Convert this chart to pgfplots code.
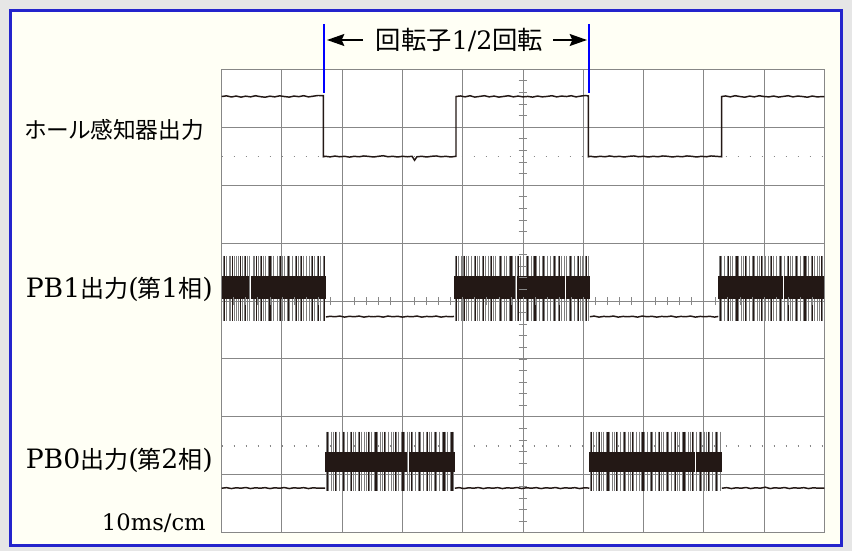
\documentclass[border=0pt]{standalone}
\usepackage{fontspec}
\setmainfont{DejaVu Serif}
\newfontfamily\cjk{Noto Sans CJK JP}
\newfontfamily\cjkp[RawFeature=+palt]{Noto Sans CJK JP}
\usepackage{pgfplots}
\pgfplotsset{compat=1.18}
\usetikzlibrary{arrows.meta}
\definecolor{bggray}{HTML}{E6E6E6}
\definecolor{frameblue}{HTML}{2424CC}
\definecolor{markblue}{HTML}{0000FF}
\definecolor{cream}{HTML}{FFFFF5}
\definecolor{gridgray}{HTML}{878787}
\definecolor{ink}{HTML}{231815}
\definecolor{spikegray}{HTML}{7E7E7E}
\pgfplotsset{
  blockA/.style={only marks, mark=-, mark options={ink, line width=17.4pt, line cap=butt}},
  blockB/.style={only marks, mark=-, mark options={ink, line width=15.1pt, line cap=butt}},
}
\begin{document}
\begin{tikzpicture}[x=0.75pt,y=0.75pt]
\useasboundingbox (0,0) rectangle (852,551);
\fill[bggray] (0,0) rectangle (852,551);
\filldraw[fill=cream, draw=frameblue, line width=1.6pt] (10.5,5.5) rectangle (841.5,540.5);
\begin{axis}[
  at={(166.275pt,13.725pt)}, anchor=south west,
  scale only axis, width=451.95pt, height=347.55pt,
  xmin=0, xmax=10, ymin=0, ymax=8,
  xtick={0,...,10}, ytick={0,...,8},
  xticklabels={}, yticklabels={},
  major tick length=0pt,
  grid=major, major grid style={gridgray, line width=0.7pt},
  axis line style={gridgray, line width=0.7pt},
  axis background/.style={fill=white},
  clip=false,
]
% reference dotted lines
\addplot[gridgray, line width=0.8pt, dash pattern=on 0.9pt off 8.1pt] coordinates {(0,6.49) (10,6.49)};
\addplot[gridgray, line width=0.8pt, dash pattern=on 0.9pt off 8.1pt] coordinates {(0,1.497) (10,1.497)};
% Hall sensor output
\addplot[ink, line width=1.1pt] coordinates {
(0,7.530) (0.08,7.542) (0.16,7.522) (0.24,7.538) (0.32,7.520) (0.40,7.536) (0.48,7.524) (0.56,7.544) (0.64,7.528) (0.72,7.518)
(0.80,7.536) (0.88,7.524) (0.96,7.542) (1.04,7.530) (1.12,7.520) (1.20,7.538) (1.28,7.528) (1.36,7.544) (1.44,7.524) (1.52,7.536)
(1.60,7.548) (1.686,7.545) (1.686,6.49)
(1.72,6.498) (1.80,6.488) (1.88,6.502) (1.96,6.490) (2.04,6.498) (2.12,6.484) (2.20,6.498) (2.28,6.490) (2.36,6.504) (2.44,6.496)
(2.52,6.486) (2.60,6.498) (2.68,6.508) (2.76,6.490) (2.84,6.498) (2.92,6.486) (3.00,6.498) (3.08,6.490) (3.16,6.498) (3.20,6.430)
(3.24,6.490) (3.32,6.498) (3.40,6.486) (3.48,6.498) (3.56,6.504) (3.64,6.490) (3.72,6.498) (3.80,6.486) (3.888,6.498) (3.888,7.53)
(3.96,7.540) (4.04,7.524) (4.12,7.544) (4.20,7.520) (4.28,7.532) (4.36,7.544) (4.44,7.524) (4.52,7.538) (4.60,7.520) (4.68,7.532)
(4.76,7.544) (4.84,7.524) (4.92,7.538) (5.00,7.524) (5.08,7.532) (5.16,7.520) (5.24,7.538) (5.32,7.524) (5.40,7.532) (5.48,7.544)
(5.56,7.524) (5.64,7.538) (5.72,7.530) (5.80,7.544) (5.88,7.524) (5.96,7.538) (6.04,7.548) (6.084,7.540) (6.084,6.49)
(6.12,6.498) (6.20,6.486) (6.28,6.498) (6.36,6.490) (6.44,6.504) (6.52,6.490) (6.60,6.498) (6.68,6.486) (6.76,6.498) (6.84,6.504)
(6.92,6.490) (7.00,6.498) (7.08,6.486) (7.16,6.498) (7.24,6.490) (7.32,6.504) (7.40,6.498) (7.48,6.486) (7.56,6.498) (7.64,6.490)
(7.72,6.504) (7.80,6.498) (7.88,6.486) (7.96,6.498) (8.04,6.490) (8.12,6.504) (8.20,6.498) (8.297,6.490) (8.297,7.53)
(8.36,7.540) (8.44,7.524) (8.52,7.544) (8.60,7.530) (8.68,7.518) (8.76,7.538) (8.84,7.524) (8.92,7.544) (9.00,7.530) (9.08,7.524)
(9.16,7.538) (9.24,7.520) (9.32,7.532) (9.40,7.544) (9.48,7.524) (9.56,7.538) (9.64,7.530) (9.72,7.518) (9.80,7.538) (9.88,7.524) (10,7.530)
};
% PB1 low segments
\addplot[ink, line width=1.1pt] coordinates {
(1.73,3.724) (1.80,3.736) (1.88,3.728) (1.96,3.740) (2.04,3.722) (2.12,3.736) (2.20,3.728) (2.28,3.740) (2.36,3.722) (2.44,3.734)
(2.52,3.728) (2.60,3.736) (2.68,3.722) (2.76,3.740) (2.84,3.728) (2.92,3.736) (3.00,3.722) (3.08,3.734) (3.16,3.728) (3.24,3.740)
(3.32,3.722) (3.40,3.734) (3.48,3.728) (3.56,3.740) (3.64,3.722) (3.72,3.734) (3.80,3.728) (3.855,3.734)
};
\addplot[ink, line width=1.1pt] coordinates {
(6.11,3.728) (6.18,3.740) (6.26,3.722) (6.34,3.734) (6.42,3.728) (6.50,3.740) (6.58,3.722) (6.66,3.734) (6.74,3.728) (6.82,3.736)
(6.90,3.722) (6.98,3.740) (7.06,3.728) (7.14,3.736) (7.22,3.722) (7.30,3.734) (7.38,3.728) (7.46,3.740) (7.54,3.722) (7.62,3.734)
(7.70,3.728) (7.78,3.740) (7.86,3.722) (7.94,3.734) (8.02,3.728) (8.10,3.736) (8.18,3.722) (8.24,3.734)
};
% PB0 low segments
\addplot[ink, line width=1.1pt] coordinates {
(0,0.768) (0.08,0.778) (0.16,0.762) (0.24,0.776) (0.32,0.768) (0.40,0.780) (0.48,0.762) (0.56,0.776) (0.64,0.768) (0.72,0.778)
(0.80,0.762) (0.88,0.776) (0.96,0.768) (1.04,0.780) (1.12,0.762) (1.20,0.776) (1.28,0.768) (1.36,0.778) (1.44,0.762) (1.52,0.776)
(1.60,0.768) (1.716,0.770)
};
\addplot[ink, line width=1.1pt] coordinates {
(3.87,0.768) (3.94,0.778) (4.02,0.762) (4.10,0.776) (4.18,0.768) (4.26,0.780) (4.34,0.762) (4.42,0.776) (4.50,0.768) (4.58,0.778)
(4.66,0.762) (4.74,0.776) (4.82,0.768) (4.90,0.780) (4.98,0.762) (5.06,0.776) (5.14,0.768) (5.22,0.778) (5.30,0.762) (5.38,0.776)
(5.46,0.768) (5.54,0.780) (5.62,0.762) (5.70,0.776) (5.78,0.768) (5.86,0.778) (5.94,0.762) (6.02,0.776) (6.10,0.770)
};
\addplot[ink, line width=1.1pt] coordinates {
(8.30,0.768) (8.38,0.778) (8.46,0.762) (8.54,0.776) (8.62,0.768) (8.70,0.780) (8.78,0.762) (8.86,0.776) (8.94,0.768) (9.02,0.786)
(9.10,0.762) (9.18,0.776) (9.26,0.768) (9.34,0.780) (9.42,0.762) (9.50,0.776) (9.58,0.768) (9.66,0.778) (9.74,0.762) (9.82,0.776)
(9.90,0.768) (10,0.770)
};
% PB1 PWM spikes (gray)
\addplot[only marks, mark=|, mark size=24.3pt, mark options={spikegray, line width=0.6pt}] coordinates {
(0.03,4.22) (0.07,4.22) (0.12,4.22) (0.15,4.22) (0.21,4.22) (0.25,4.22) (0.28,4.22) (0.34,4.22) (0.38,4.22) (0.43,4.22)
(0.46,4.22) (0.52,4.22) (0.55,4.22) (0.61,4.22) (0.64,4.22) (0.69,4.22) (0.73,4.22) (0.78,4.22) (0.83,4.22) (0.86,4.22)
(0.92,4.22) (0.95,4.22) (1.01,4.22) (1.04,4.22) (1.09,4.22) (1.13,4.22) (1.18,4.22) (1.22,4.22) (1.27,4.22) (1.31,4.22)
(1.36,4.22) (1.40,4.22) (1.45,4.22) (1.49,4.22) (1.54,4.22) (1.58,4.22) (1.63,4.22) (1.68,4.22)
(3.88,4.22) (3.92,4.22) (3.97,4.22) (4.01,4.22) (4.06,4.22) (4.10,4.22) (4.15,4.22) (4.19,4.22) (4.24,4.22) (4.28,4.22)
(4.33,4.22) (4.37,4.22) (4.42,4.22) (4.46,4.22) (4.51,4.22) (4.55,4.22) (4.60,4.22) (4.64,4.22) (4.69,4.22) (4.73,4.22)
(4.78,4.22) (4.82,4.22) (4.87,4.22) (4.91,4.22) (4.96,4.22) (5.00,4.22) (5.05,4.22) (5.09,4.22) (5.14,4.22) (5.18,4.22)
(5.23,4.22) (5.27,4.22) (5.32,4.22) (5.36,4.22) (5.41,4.22) (5.45,4.22) (5.50,4.22) (5.54,4.22) (5.59,4.22) (5.63,4.22)
(5.68,4.22) (5.72,4.22) (5.77,4.22) (5.81,4.22) (5.86,4.22) (5.90,4.22) (5.95,4.22) (5.99,4.22) (6.04,4.22) (6.08,4.22)
(8.26,4.22) (8.30,4.22) (8.35,4.22) (8.39,4.22) (8.44,4.22) (8.48,4.22) (8.53,4.22) (8.57,4.22) (8.62,4.22) (8.66,4.22)
(8.71,4.22) (8.75,4.22) (8.80,4.22) (8.84,4.22) (8.89,4.22) (8.93,4.22) (8.98,4.22) (9.02,4.22) (9.07,4.22) (9.11,4.22)
(9.16,4.22) (9.20,4.22) (9.25,4.22) (9.29,4.22) (9.34,4.22) (9.38,4.22) (9.43,4.22) (9.47,4.22) (9.52,4.22) (9.56,4.22)
(9.61,4.22) (9.65,4.22) (9.70,4.22) (9.74,4.22) (9.79,4.22) (9.83,4.22) (9.88,4.22) (9.92,4.22) (9.97,4.22)
};
% PB1 PWM spikes (black)
\addplot[only marks, mark=|, mark size=24.3pt, mark options={ink, line width=0.9pt}] coordinates {
(0.05,4.22) (0.18,4.22) (0.31,4.22) (0.40,4.22) (0.58,4.22) (0.66,4.22) (0.80,4.22) (0.97,4.22) (1.11,4.22) (1.24,4.22)
(1.33,4.22) (1.51,4.22) (1.60,4.22) (1.71,4.22)
(3.90,4.22) (4.03,4.22) (4.21,4.22) (4.35,4.22) (4.48,4.22) (4.62,4.22) (4.80,4.22) (4.93,4.22) (5.07,4.22) (5.20,4.22)
(5.34,4.22) (5.52,4.22) (5.61,4.22) (5.79,4.22) (5.92,4.22) (6.06,4.22)
(8.28,4.22) (8.41,4.22) (8.55,4.22) (8.69,4.22) (8.82,4.22) (8.96,4.22) (9.13,4.22) (9.27,4.22) (9.40,4.22) (9.54,4.22)
(9.68,4.22) (9.81,4.22) (9.95,4.22)
};
% PB0 PWM spikes (gray)
\addplot[only marks, mark=|, mark size=22.1pt, mark options={spikegray, line width=0.6pt}] coordinates {
(1.73,1.235) (1.77,1.235) (1.82,1.235) (1.86,1.235) (1.91,1.235) (1.95,1.235) (2.00,1.235) (2.04,1.235) (2.09,1.235) (2.13,1.235)
(2.18,1.235) (2.22,1.235) (2.27,1.235) (2.31,1.235) (2.36,1.235) (2.40,1.235) (2.45,1.235) (2.49,1.235) (2.54,1.235) (2.58,1.235)
(2.63,1.235) (2.67,1.235) (2.72,1.235) (2.76,1.235) (2.81,1.235) (2.85,1.235) (2.90,1.235) (2.94,1.235) (2.99,1.235) (3.03,1.235)
(3.08,1.235) (3.12,1.235) (3.17,1.235) (3.21,1.235) (3.26,1.235) (3.30,1.235) (3.35,1.235) (3.39,1.235) (3.44,1.235) (3.48,1.235)
(3.53,1.235) (3.57,1.235) (3.62,1.235) (3.66,1.235) (3.71,1.235) (3.75,1.235) (3.80,1.235) (3.84,1.235)
(6.12,1.235) (6.16,1.235) (6.21,1.235) (6.25,1.235) (6.30,1.235) (6.34,1.235) (6.39,1.235) (6.43,1.235) (6.48,1.235) (6.52,1.235)
(6.57,1.235) (6.61,1.235) (6.66,1.235) (6.70,1.235) (6.75,1.235) (6.79,1.235) (6.84,1.235) (6.88,1.235) (6.93,1.235) (6.97,1.235)
(7.02,1.235) (7.06,1.235) (7.11,1.235) (7.15,1.235) (7.20,1.235) (7.24,1.235) (7.29,1.235) (7.33,1.235) (7.38,1.235) (7.42,1.235)
(7.47,1.235) (7.51,1.235) (7.56,1.235) (7.60,1.235) (7.65,1.235) (7.69,1.235) (7.74,1.235) (7.78,1.235) (7.83,1.235) (7.87,1.235)
(7.92,1.235) (7.96,1.235) (8.01,1.235) (8.05,1.235) (8.10,1.235) (8.14,1.235) (8.19,1.235) (8.23,1.235) (8.28,1.235)
};
% PB0 PWM spikes (black)
\addplot[only marks, mark=|, mark size=22.1pt, mark options={ink, line width=0.9pt}] coordinates {
(1.75,1.235) (1.89,1.235) (2.02,1.235) (2.16,1.235) (2.29,1.235) (2.43,1.235) (2.56,1.235) (2.70,1.235) (2.88,1.235) (3.01,1.235)
(3.15,1.235) (3.28,1.235) (3.42,1.235) (3.55,1.235) (3.69,1.235) (3.82,1.235)
(6.14,1.235) (6.27,1.235) (6.41,1.235) (6.55,1.235) (6.68,1.235) (6.82,1.235) (6.99,1.235) (7.13,1.235) (7.26,1.235) (7.40,1.235)
(7.53,1.235) (7.67,1.235) (7.81,1.235) (7.94,1.235) (8.08,1.235) (8.21,1.235)
};
% dense PWM blocks: one wide bar-mark per solid piece (centre, half width as mark size)
\addplot[blockA, mark size=10.39pt] coordinates {(0.23,4.23)};
\addplot[blockA, mark size=28.13pt] coordinates {(1.1075,4.23)};
\addplot[blockA, mark size=22.94pt] coordinates {(4.3625,4.23)};
\addplot[blockA, mark size=17.97pt] coordinates {(5.2925,4.23)};
\addplot[blockA, mark size=8.93pt] coordinates {(5.9125,4.23)};
\addplot[blockA, mark size=24.18pt] coordinates {(8.775,4.23)};
\addplot[blockA, mark size=15.03pt] coordinates {(9.6675,4.23)};
\addplot[blockB, mark size=30.82pt] coordinates {(2.398,1.227)};
\addplot[blockB, mark size=6.67pt] coordinates {(3.2525,1.227)};
\addplot[blockB, mark size=10.06pt] coordinates {(3.6475,1.227)};
\addplot[blockB, mark size=39.55pt] coordinates {(6.975,1.227)};
\addplot[blockB, mark size=9.60pt] coordinates {(8.0875,1.227)};
\end{axis}
% centre graticule ticks
\foreach \i in {0,...,40} \draw[gridgray, line width=0.6pt] (518.6,18.3+\i*11.585) -- (527.4,18.3+\i*11.585);
\foreach \i in {0,...,50} \draw[gridgray, line width=0.6pt] (221.7+\i*12.052,245.9) -- (221.7+\i*12.052,253.9);
% rotor half turn marker
\draw[markblue, line width=1.5pt] (323.5,527) -- (323.5,458.3);
\draw[markblue, line width=1.5pt] (589.3,527) -- (589.3,458.3);
\draw[-{Stealth[length=13pt,width=9pt,inset=2pt]}, line width=1.1pt] (363,511) -- (327,511);
\draw[-{Stealth[length=13pt,width=9pt,inset=2pt]}, line width=1.1pt] (553,511) -- (587,511);
\node[inner sep=0pt] at (459.5,511) {\fontsize{19pt}{22pt}\selectfont{\cjk 回転子}1/2{\cjk 回転}};
% labels
\node[anchor=east, inner sep=0pt] at (204,421) {\fontsize{17pt}{20pt}\selectfont\cjkp ホール感知器出力};
\node[anchor=east, inner sep=0pt] at (213,262) {\fontsize{20pt}{23pt}\selectfont PB1{\fontsize{18pt}{23pt}\selectfont\cjk 出力}(\kern-1pt{\fontsize{18pt}{23pt}\selectfont\cjk 第}1{\fontsize{18pt}{23pt}\selectfont\cjk 相})};
\node[anchor=east, inner sep=0pt] at (213,91) {\fontsize{20pt}{23pt}\selectfont PB0{\fontsize{18pt}{23pt}\selectfont\cjk 出力}(\kern-1pt{\fontsize{18pt}{23pt}\selectfont\cjk 第}2{\fontsize{18pt}{23pt}\selectfont\cjk 相})};
\node[anchor=east, inner sep=0pt] at (206,28) {\fontsize{17pt}{20pt}\selectfont 10ms/cm};
\end{tikzpicture}
\end{document}
